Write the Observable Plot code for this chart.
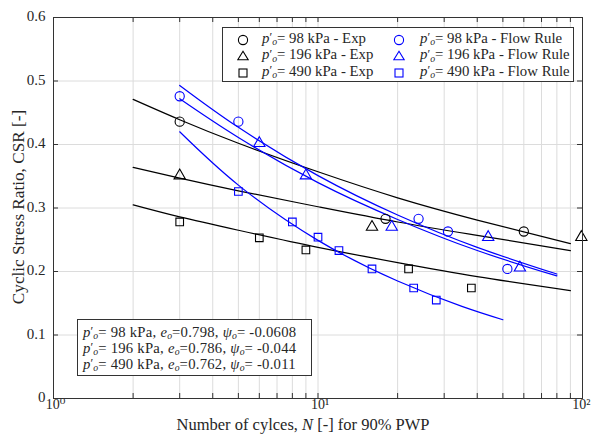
<!DOCTYPE html>
<html><head><meta charset="utf-8">
<script src="https://cdn.jsdelivr.net/npm/d3@7"></script>
<script src="https://cdn.jsdelivr.net/npm/@observablehq/plot@0.6"></script>
<style>
body{margin:0;background:#fff;}
#fig{position:relative;width:591px;height:435px;font-family:"Liberation Serif","Times New Roman","Tinos","DejaVu Serif","Noto Serif",serif;color:#262626;overflow:hidden;}
#fig > svg{position:absolute;left:0;top:0;}
.box{position:absolute;background:#fff;border:1px solid #333;box-sizing:border-box;}
.row{position:absolute;white-space:nowrap;font-size:14.8px;}
.note .row{font-size:14.7px;letter-spacing:0.25px;}
.sym{position:absolute;}
.pr{font-size:0.85em;position:relative;top:-0.15em;letter-spacing:0;}
.sub{font-size:0.66em;font-style:italic;position:relative;top:0.22em;letter-spacing:0;}
#ytitle{position:absolute;left:19px;top:207px;transform:translate(-50%,-50%) rotate(-90deg);white-space:nowrap;font-size:17.2px;}
#xtitle{position:absolute;left:303px;top:424.5px;transform:translate(-50%,-50%);white-space:nowrap;font-size:16.5px;}
</style>
</head><body>
<div id="fig"></div>
<script>
// ---- data ----
const exp98N = [3, 18, 60];
const exp98CSR = [0.436, 0.283, 0.263];
const exp196N = [3, 16, 99];
const exp196CSR = [0.351, 0.27, 0.254];
const exp490N = [3, 6, 9, 22, 38];
const exp490CSR = [0.278, 0.253, 0.234, 0.204, 0.174];
const fr98N = [3, 5, 24, 31, 52];
const fr98CSR = [0.476, 0.436, 0.283, 0.263, 0.204];
const fr196N = [6, 9, 19, 44, 58];
const fr196CSR = [0.402, 0.351, 0.27, 0.254, 0.206];
const fr490N = [5, 8, 10, 12, 16, 23, 28];
const fr490CSR = [0.326, 0.278, 0.254, 0.233, 0.204, 0.174, 0.155];

// fitted curves
const fitExpN = [2, 3, 5, 10, 20, 40, 90];
const fit98Exp = [0.471, 0.439, 0.402, 0.357, 0.316, 0.281, 0.244];
const fit196Exp = [0.364, 0.347, 0.327, 0.302, 0.278, 0.257, 0.233];
const fit490Exp = [0.305, 0.286, 0.265, 0.238, 0.214, 0.192, 0.170];
const fitFrN = [3, 5, 10, 20, 40, 80];
const fit98Fr = [0.472, 0.411, 0.340, 0.282, 0.233, 0.193];
const fit196Fr = [0.493, 0.427, 0.351, 0.289, 0.238, 0.196];
const fit490FrN = [3, 5, 10, 20, 35, 50];
const fit490Fr = [0.420, 0.336, 0.249, 0.185, 0.145, 0.124];

const xGridTicks = [1,2,3,4,5,6,7,8,9,10,20,30,40,50,60,70,80,90,100];
const xLabelTicks = [1, 10, 100];
const xTickText = ["10\u2070", "10\u00B9", "10\u00B2"];
const yTicks = [0, 0.1, 0.2, 0.3, 0.4, 0.5, 0.6];
const yTickText = ["0", "0.1", "0.2", "0.3", "0.4", "0.5", "0.6"];

const legendRows = [
  {p:"98", src:"Exp", sym:"circle", color:"#000"},
  {p:"196", src:"Exp", sym:"triangle", color:"#000"},
  {p:"490", src:"Exp", sym:"square", color:"#000"},
  {p:"98", src:"Flow Rule", sym:"circle", color:"#0000ff"},
  {p:"196", src:"Flow Rule", sym:"triangle", color:"#0000ff"},
  {p:"490", src:"Flow Rule", sym:"square", color:"#0000ff"}
];
const noteP = ["98", "196", "490"];
const noteE = ["0.798", "0.786", "0.762"];
const notePsi = ["-0.0608", "-0.044", "-0.011"];

// ---- build ----
const FONT = '"Liberation Serif","Times New Roman","Tinos","DejaVu Serif","Noto Serif",serif';
const zip = (xs, ys) => xs.map((x, i) => ({x, y: ys[i]}));
const W = 591, H = 435, mL = 53, mR = 9, mT = 17, mB = 37;
const plotH = H - mT - mB, plotW = W - mL - mR;
const BLUE = "#0000ff", BLACK = "#000000", AX = "#333333";

const lineOpts = (c) => ({x: "x", y: "y", stroke: c, strokeWidth: 1.2, curve: "natural"});
const dotOpts = (c, s, r) => ({x: "x", y: "y", stroke: c, fill: "none", symbol: s, r, strokeWidth: 1.1});
const xFmt = d => xTickText[xLabelTicks.indexOf(d)];

const chart = Plot.plot({
  width: W, height: H,
  marginLeft: mL, marginRight: mR, marginTop: mT, marginBottom: mB,
  x: {type: "log", domain: [1, 100]},
  y: {domain: [0, 0.6]},
  style: {fontFamily: FONT, fontSize: "15px", color: "#262626", background: "transparent"},
  marks: [
    Plot.gridX(xGridTicks, {stroke: "#dcdcdc", strokeOpacity: 1}),
    Plot.gridY(yTicks, {stroke: "#dcdcdc", strokeOpacity: 1}),
    Plot.tickX(xGridTicks, {x: d => d, insetTop: plotH - 5, stroke: AX}),
    Plot.tickX(xGridTicks, {x: d => d, insetBottom: plotH - 5, stroke: AX}),
    Plot.tickY(yTicks, {y: d => d, insetRight: plotW - 5, stroke: AX}),
    Plot.tickY(yTicks, {y: d => d, insetLeft: plotW - 5, stroke: AX}),
    Plot.axisX(xLabelTicks.slice(0, 2), {tickSize: 0, tickPadding: 1, dx: 2, fontSize: 14, label: null, tickFormat: xFmt}),
    Plot.axisX(xLabelTicks.slice(2), {tickSize: 0, tickPadding: 1, dx: 8, textAnchor: "end", fontSize: 14, label: null, tickFormat: xFmt}),
    Plot.axisY(yTicks, {tickSize: 0, tickPadding: 8, label: null, tickFormat: d => yTickText[yTicks.indexOf(d)], dy: -1}),
    Plot.line(zip(fitExpN, fit98Exp), lineOpts(BLACK)),
    Plot.line(zip(fitExpN, fit196Exp), lineOpts(BLACK)),
    Plot.line(zip(fitExpN, fit490Exp), lineOpts(BLACK)),
    Plot.line(zip(fitFrN, fit98Fr), lineOpts(BLUE)),
    Plot.line(zip(fitFrN, fit196Fr), lineOpts(BLUE)),
    Plot.line(zip(fit490FrN, fit490Fr), lineOpts(BLUE)),
    Plot.dot(zip(exp98N, exp98CSR), dotOpts(BLACK, "circle", 4.6)),
    Plot.dot(zip(exp196N, exp196CSR), dotOpts(BLACK, "triangle", 4.2)),
    Plot.dot(zip(exp490N, exp490CSR), dotOpts(BLACK, "square", 4.3)),
    Plot.dot(zip(fr98N, fr98CSR), dotOpts(BLUE, "circle", 4.6)),
    Plot.dot(zip(fr196N, fr196CSR), dotOpts(BLUE, "triangle", 4.2)),
    Plot.dot(zip(fr490N, fr490CSR), dotOpts(BLUE, "square", 4.3)),
    Plot.frame({stroke: AX, strokeWidth: 1})
  ]
});
const fig = document.getElementById("fig");
fig.appendChild(chart);

const P = () => `<i>p</i><span class="pr">\u2032</span><span class="sub">o</span>`;

function symSvg(sym, color) {
  let s = "";
  if (sym === "circle") s = `<circle cx="6" cy="6" r="4.6" fill="none" stroke="${color}" stroke-width="1.1"/>`;
  else if (sym === "triangle") s = `<polygon points="6,1.2 11.2,9.8 0.8,9.8" fill="none" stroke="${color}" stroke-width="1.1"/>`;
  else s = `<rect x="2" y="2" width="8" height="8" fill="none" stroke="${color}" stroke-width="1.1"/>`;
  return `<svg width="12" height="12" viewBox="0 0 12 12">${s}</svg>`;
}

// legend
const leg = document.createElement("div");
leg.className = "box";
Object.assign(leg.style, {left: "222px", top: "27px", width: "352px", height: "55px"});
legendRows.forEach((r, i) => {
  const col = Math.floor(i / 3), row = i % 3;
  const cy = 9.7 + row * 16.7;
  const sx = col === 0 ? 13.5 : 170;
  const tx = col === 0 ? 39 : 197;
  const sym = document.createElement("div");
  sym.className = "sym";
  Object.assign(sym.style, {left: sx + "px", top: (cy - 6) + "px", width: "12px", height: "12px"});
  sym.innerHTML = symSvg(r.sym, r.color);
  leg.appendChild(sym);
  const t = document.createElement("div");
  t.className = "row";
  Object.assign(t.style, {left: tx + "px", top: (cy - 9) + "px", lineHeight: "18px"});
  t.innerHTML = `${P()}= ${r.p} kPa - ${r.src}`;
  leg.appendChild(t);
});
fig.appendChild(leg);

// note box
const note = document.createElement("div");
note.className = "box note";
Object.assign(note.style, {left: "77px", top: "319px", width: "235px", height: "57px"});
noteP.forEach((p, i) => {
  const cy = 11.7 + i * 16.3;
  const t = document.createElement("div");
  t.className = "row";
  Object.assign(t.style, {left: "5px", top: (cy - 9) + "px", lineHeight: "18px"});
  t.innerHTML = `${P()}= ${p} kPa, <i>e</i><span class="sub">o</span>=${noteE[i]}, <i>\u03C8</i><span class="sub">o</span>= ${notePsi[i]}`;
  note.appendChild(t);
});
fig.appendChild(note);

// axis titles
const yt = document.createElement("div");
yt.id = "ytitle";
yt.textContent = "Cyclic Stress Ratio, CSR [-]";
fig.appendChild(yt);
const xt = document.createElement("div");
xt.id = "xtitle";
xt.innerHTML = "Number of cylces, <i>N</i> [-] for 90% PWP";
fig.appendChild(xt);
</script>
</body></html>
